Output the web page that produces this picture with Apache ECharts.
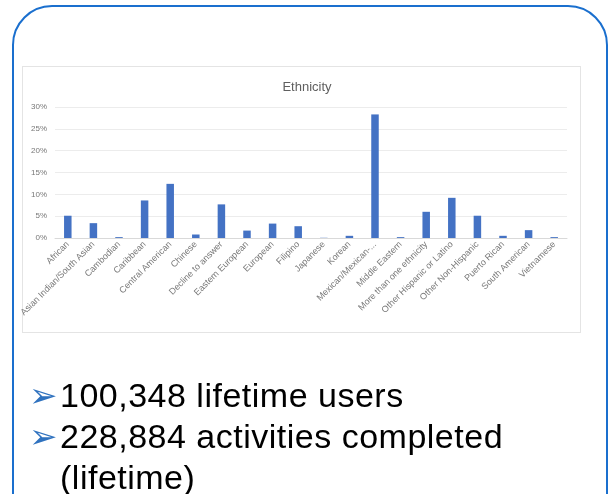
<!DOCTYPE html>
<html>
<head>
<meta charset="utf-8">
<script src="https://cdn.jsdelivr.net/npm/echarts@6/dist/echarts.min.js"></script>
<style>
  html, body { margin: 0; padding: 0; background: #fff; }
  body { width: 615px; height: 494px; overflow: hidden; position: relative; font-family: "Liberation Sans", Arial, sans-serif; }
  #frame { position: absolute; left: 12px; top: 5px; width: 592px; height: 620px; border: 2.5px solid #1a6fce; border-radius: 40px; box-sizing: content-box; }
  #box { position: absolute; left: 22px; top: 66px; width: 557px; height: 265px; border: 1px solid #e4e4e4; }
  #chart { position: absolute; left: 0; top: 0; width: 615px; height: 494px; }
  #bullets { position: absolute; left: 30px; top: 375px; font-size: 34px; letter-spacing: 0.5px; line-height: 41px; color: #000; }
  .b { display: flex; align-items: flex-start; }
  .arrow { color: #2f72bf; font-family: "DejaVu Sans"; font-size: 34px; width: 31px; line-height: 41px; letter-spacing: 0; margin-left: -1px; }
</style>
</head>
<body>
<div id="frame"></div>
<div id="box"></div>
<div id="chart"></div>
<div id="bullets">
  <div class="b"><span class="arrow">➢</span><span>100,348 lifetime users</span></div>
  <div class="b"><span class="arrow">➢</span><span>228,884 activities completed<br>(lifetime)</span></div>
</div>
<script>
const title = 'Ethnicity';
const categories = ['African', 'Asian Indian/South Asian', 'Cambodian', 'Caribbean', 'Central American', 'Chinese', 'Decline to answer', 'Eastern European', 'European', 'Filipino', 'Japanese', 'Korean', 'Mexican/Mexican-...', 'Middle Eastern', 'More than one ethnicity', 'Other Hispanic or Latino', 'Other Non-Hispanic', 'Puerto Rican', 'South American', 'Vietnamese'];
const values = [5.1, 3.4, 0.2, 8.6, 12.4, 0.8, 7.7, 1.7, 3.3, 2.7, 0.05, 0.5, 28.3, 0.2, 6.0, 9.2, 5.1, 0.5, 1.8, 0.2];
const yTicks = [0, 5, 10, 15, 20, 25, 30];

const chart = echarts.init(document.getElementById('chart'), null, { renderer: 'canvas' });
chart.setOption({
  animation: false,
  title: {
    text: title, left: 302, top: 76, textAlign: 'center',
    textStyle: { fontFamily: 'Liberation Sans', fontSize: 13, fontWeight: 'normal', color: '#5f5f5f' }
  },
  grid: { left: 55, right: 48, top: 107, bottom: 256, containLabel: false },
  xAxis: {
    type: 'category', data: categories,
    axisTick: { show: false },
    axisLine: { lineStyle: { color: '#d9d9d9' } },
    axisLabel: { interval: 0, rotate: 45, fontSize: 9, color: '#777', fontFamily: 'Liberation Sans', margin: 5 }
  },
  yAxis: {
    type: 'value', min: yTicks[0], max: yTicks[yTicks.length - 1], interval: 5,
    axisLine: { show: false }, axisTick: { show: false },
    splitLine: { lineStyle: { color: '#ececec' } },
    axisLabel: { formatter: '{value}%', fontSize: 8, color: '#777', fontFamily: 'Liberation Sans', margin: 8 }
  },
  series: [{
    type: 'bar', data: values, barWidth: 7.5,
    itemStyle: { color: '#4472c4' }
  }]
});
</script>
</body>
</html>
